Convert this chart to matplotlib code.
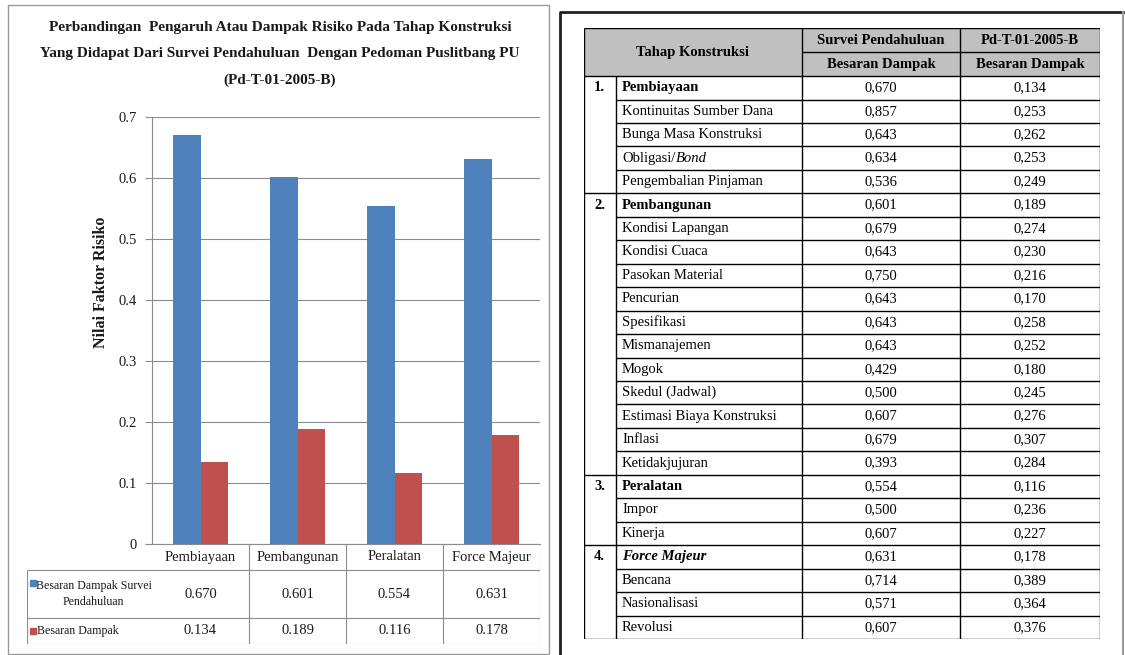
import numpy as np
import matplotlib.pyplot as plt
from matplotlib.patches import Rectangle

plt.rcParams['font.family'] = ['Liberation Serif', 'DejaVu Serif']

# Summary per construction stage (chart + group rows of the table)
stages = ['Pembiayaan', 'Pembangunan', 'Peralatan', 'Force Majeur']
survey_stage = [0.670, 0.601, 0.554, 0.631]
pedoman_stage = [0.134, 0.189, 0.116, 0.178]

# Detail items per stage: (name, survei pendahuluan, Pd-T-01-2005-B)
pembiayaan_items = ['Kontinuitas Sumber Dana', 'Bunga Masa Konstruksi', 'Obligasi/Bond', 'Pengembalian Pinjaman']
pembiayaan_survey = [0.857, 0.643, 0.634, 0.536]
pembiayaan_pedoman = [0.253, 0.262, 0.253, 0.249]

pembangunan_items = ['Kondisi Lapangan', 'Kondisi Cuaca', 'Pasokan Material', 'Pencurian',
                     'Spesifikasi', 'Mismanajemen', 'Mogok', 'Skedul (Jadwal)',
                     'Estimasi Biaya Konstruksi', 'Inflasi', 'Ketidakjujuran']
pembangunan_survey = [0.679, 0.643, 0.750, 0.643, 0.643, 0.643, 0.429, 0.500, 0.607, 0.679, 0.393]
pembangunan_pedoman = [0.274, 0.230, 0.216, 0.170, 0.258, 0.252, 0.180, 0.245, 0.276, 0.307, 0.284]

peralatan_items = ['Impor', 'Kinerja']
peralatan_survey = [0.500, 0.607]
peralatan_pedoman = [0.236, 0.227]

force_items = ['Bencana', 'Nasionalisasi', 'Revolusi']
force_survey = [0.714, 0.571, 0.607]
force_pedoman = [0.389, 0.364, 0.376]

title_lines = ['Perbandingan  Pengaruh Atau Dampak Risiko Pada Tahap Konstruksi',
               'Yang Didapat Dari Survei Pendahuluan  Dengan Pedoman Puslitbang PU',
               '(Pd-T-01-2005-B)']
series_labels = ['Besaran Dampak Survei\nPendahuluan', 'Besaran Dampak']
blue, red = '#4f81bd', '#c0504d'
grid_c = '#8c8c8c'
txt_c = '#1a1a1a'

W, H = 1125, 655
fig = plt.figure(figsize=(W / 100, H / 100), dpi=100)


def px_axes(x0, y0, x1, y1):
    return fig.add_axes([x0 / W, 1 - y1 / H, (x1 - x0) / W, (y1 - y0) / H])


# overlay for frames and title
bg = fig.add_axes([0, 0, 1, 1])
bg.set_xlim(0, W)
bg.set_ylim(H, 0)
bg.axis('off')
bg.add_patch(Rectangle((8, 5), 541, 649, fill=False, ec='#9a9a9a', lw=1))
bg.plot([560, 560, 1123], [660, 12, 12], color='#222222', lw=2)
bg.plot([1123, 1123], [12, 660], color='#9a9a9a', lw=1.5)

for k, line in enumerate(title_lines):
    bg.text(280, 28 + 26 * k, line, ha='center', va='center', fontsize=11,
            fontweight='bold', color=txt_c)

# ---- bar chart ----
ax = px_axes(152, 117, 540, 544)
x = np.arange(len(stages))
bw = 0.28
ax.bar(x - bw / 2, survey_stage, bw, color=blue, zorder=2)
ax.bar(x + bw / 2, pedoman_stage, bw, color=red, zorder=2)
ax.set_xlim(-0.5, len(stages) - 0.5)
ax.set_ylim(0, 0.7)
yt = np.arange(0, 0.71, 0.1)
ax.set_yticks(yt)
ax.set_yticklabels([f'{t:g}' for t in np.round(yt, 1)], fontsize=10.5, color=txt_c)
ax.set_xticks([])
ax.yaxis.grid(True, color=grid_c, lw=0.8)
ax.set_axisbelow(True)
for s in ['top', 'right']:
    ax.spines[s].set_visible(False)
for s in ['left', 'bottom']:
    ax.spines[s].set_color(grid_c)
    ax.spines[s].set_linewidth(0.8)
ax.tick_params(axis='y', length=5, color=grid_c, pad=6)
ax.set_ylabel('Nilai Faktor Risiko', fontsize=11.5, fontweight='bold', color=txt_c)
ax.yaxis.set_label_coords(-0.112, 0.613)

# ---- data table under the chart ----
tab = px_axes(27, 544, 540, 644)
x_right = len(stages) - 0.5
x_left = x_right - (540 - 27) / (540 - 152) * len(stages)
tab.set_xlim(x_left, x_right)
tab.set_ylim(100, 0)
tab.axis('off')
row_edges = [0, 26, 74, 100]
for yv in row_edges[1:]:
    tab.hlines(yv, x_left, x_right, color=grid_c, lw=0.8)
for k in range(1, len(stages) + 1):
    tab.vlines(-0.5 + k, 0, 100, color=grid_c, lw=0.8)
tab.vlines(x_left + 0.003, 26, 100, color=grid_c, lw=0.8)

for i, name in enumerate(stages):
    tab.text(i, 13, name, ha='center', va='center', fontsize=10.5, color=txt_c)
    tab.text(i, 50, f'{survey_stage[i]:.3f}', ha='center', va='center', fontsize=10.5, color=txt_c)
    tab.text(i, 87, f'{pedoman_stage[i]:.3f}', ha='center', va='center', fontsize=10.5, color=txt_c)

unit = (x_right - x_left) / (540 - 27)
sq = 6 * unit
lab_x = x_left + 10 * unit
tab.add_patch(Rectangle((x_left + 3 * unit, 36), sq, 6, color=blue))
tab.add_patch(Rectangle((x_left + 3 * unit, 84), sq, 6, color=red))
tab.text((lab_x - 0.5 - 2 * unit) / 2, 50, series_labels[0], ha='center', va='center',
         multialignment='center', fontsize=8.6, color=txt_c, linespacing=1.5)
tab.text(lab_x, 87, series_labels[1], ha='left', va='center', fontsize=8.6, color=txt_c)

# ---- detail table ----
groups = [
    (stages[0], survey_stage[0], pedoman_stage[0], pembiayaan_items, pembiayaan_survey, pembiayaan_pedoman),
    (stages[1], survey_stage[1], pedoman_stage[1], pembangunan_items, pembangunan_survey, pembangunan_pedoman),
    (stages[2], survey_stage[2], pedoman_stage[2], peralatan_items, peralatan_survey, peralatan_pedoman),
    (stages[3], survey_stage[3], pedoman_stage[3], force_items, force_survey, force_pedoman),
]
n_rows = sum(1 + len(g[3]) for g in groups)
hdr = 48 / 23.43
tb = px_axes(584, 28, 1100, 639)
col = [0, 32, 218, 376, 516]
tb.set_xlim(0, 516)
tb.set_ylim(hdr + n_rows, 0)
tb.axis('off')
fs = 10.5
lw = 1.0

tb.add_patch(Rectangle((0, 0), 516, hdr, color='#c0c0c0', lw=0))
tb.text((col[0] + col[2]) / 2, hdr / 2, 'Tahap Konstruksi', ha='center', va='center',
        fontsize=fs, fontweight='bold')
for c, top in [(2, 'Survei Pendahuluan'), (3, 'Pd-T-01-2005-B')]:
    cx = (col[c] + col[c + 1]) / 2
    tb.text(cx, hdr / 4, top, ha='center', va='center', fontsize=fs, fontweight='bold')
    tb.text(cx, hdr * 3 / 4, 'Besaran Dampak', ha='center', va='center', fontsize=fs, fontweight='bold')
tb.hlines(hdr / 2, col[2], col[4], color='k', lw=lw)

row = 0
for gi, (gname, gs, gp, items, s_vals, p_vals) in enumerate(groups):
    yc = hdr + row + 0.5
    tb.hlines(hdr + row, col[0], col[4], color='k', lw=lw)
    tb.text(col[0] + 10, yc, f'{gi + 1}.', ha='left', va='center', fontsize=fs, fontweight='bold')
    tb.text(col[1] + 6, yc, gname, ha='left', va='center', fontsize=fs, fontweight='bold',
            fontstyle='italic' if gname == 'Force Majeur' else 'normal')
    tb.text(297, yc, f'{gs:.3f}'.replace('.', ','), ha='center', va='center', fontsize=fs)
    tb.text(446, yc, f'{gp:.3f}'.replace('.', ','), ha='center', va='center', fontsize=fs)
    row += 1
    for name, sv, pv in zip(items, s_vals, p_vals):
        yc = hdr + row + 0.5
        tb.hlines(hdr + row, col[1], col[4], color='k', lw=lw)
        if '/' in name:
            head, tail = name.split('/')
            t1 = tb.text(col[1] + 6, yc, head + '/', ha='left', va='center', fontsize=fs)
            tb.annotate(tail, xy=(1, 0), xycoords=t1, ha='left', va='bottom',
                        fontsize=fs, fontstyle='italic')
        else:
            tb.text(col[1] + 6, yc, name, ha='left', va='center', fontsize=fs)
        tb.text(297, yc, f'{sv:.3f}'.replace('.', ','), ha='center', va='center', fontsize=fs)
        tb.text(446, yc, f'{pv:.3f}'.replace('.', ','), ha='center', va='center', fontsize=fs)
        row += 1

tb.hlines([0, hdr + n_rows], col[0], col[4], color='k', lw=lw)
tb.vlines([col[0], col[2], col[3], col[4]], 0, hdr + n_rows, color='k', lw=lw)
tb.vlines(col[1], hdr, hdr + n_rows, color='k', lw=lw)

fig.savefig('out.png', dpi=100)
